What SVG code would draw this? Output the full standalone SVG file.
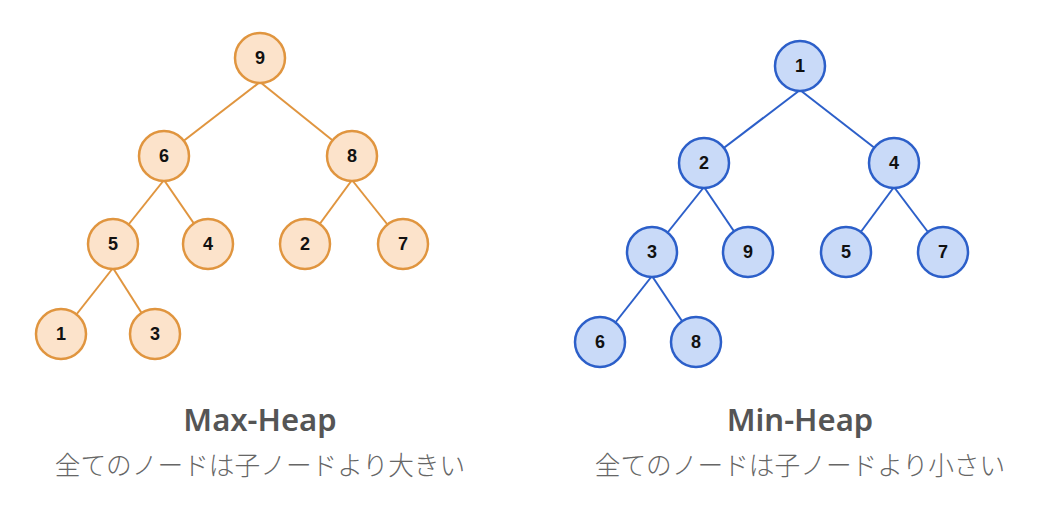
<svg xmlns="http://www.w3.org/2000/svg" width="1055" height="516" viewBox="0 0 1055 516">
<style>
.e1{stroke:#E0953F;stroke-width:2;fill:none}
.e2{stroke:#2C5FC9;stroke-width:2;fill:none}
.n1 circle{fill:#FCE3CB;stroke:#E0953F;stroke-width:2.5}
.n2 circle{fill:#C9DAF8;stroke:#2C5FC9;stroke-width:2.5}
.n1 text,.n2 text{font-family:"Liberation Sans",Arial,sans-serif;font-weight:bold;font-size:18px;fill:#111;text-anchor:middle;dominant-baseline:central}
.title{font-family:"Noto Sans","Open Sans",sans-serif;font-weight:600;font-size:31px;fill:#555;text-anchor:middle}
.sub{font-family:"Noto Sans CJK JP",sans-serif;font-weight:300;font-size:25.7px;fill:#666;text-anchor:middle}
</style>
<rect width="1055" height="516" fill="#fff"/>
<g id="connectors">
<line class="e1" x1="260" y1="82" x2="164" y2="156"/>
<line class="e1" x1="260" y1="82" x2="352" y2="156"/>
<line class="e1" x1="164" y1="180" x2="113" y2="244"/>
<line class="e1" x1="164" y1="180" x2="208" y2="244"/>
<line class="e1" x1="352" y1="180" x2="305" y2="244"/>
<line class="e1" x1="352" y1="180" x2="403" y2="244"/>
<line class="e1" x1="113" y1="268" x2="61" y2="334"/>
<line class="e1" x1="113" y1="268" x2="155" y2="334"/>
<line class="e2" x1="800" y1="90" x2="704" y2="163"/>
<line class="e2" x1="800" y1="90" x2="894" y2="163"/>
<line class="e2" x1="704" y1="187" x2="652" y2="252"/>
<line class="e2" x1="704" y1="187" x2="748" y2="252"/>
<line class="e2" x1="894" y1="187" x2="846" y2="252"/>
<line class="e2" x1="894" y1="187" x2="943" y2="252"/>
<line class="e2" x1="652" y1="276" x2="600" y2="342"/>
<line class="e2" x1="652" y1="276" x2="696" y2="342"/>
</g>
<g id="max9" class="n1"><circle cx="260" cy="58" r="25"/><text x="260" y="58">9</text></g>
<g id="max6" class="n1"><circle cx="164" cy="156" r="25"/><text x="164" y="156">6</text></g>
<g id="max8" class="n1"><circle cx="352" cy="156" r="25"/><text x="352" y="156">8</text></g>
<g id="max5" class="n1"><circle cx="113" cy="244" r="25"/><text x="113" y="244">5</text></g>
<g id="max4" class="n1"><circle cx="208" cy="244" r="25"/><text x="208" y="244">4</text></g>
<g id="max2" class="n1"><circle cx="305" cy="244" r="25"/><text x="305" y="244">2</text></g>
<g id="max7" class="n1"><circle cx="403" cy="244" r="25"/><text x="403" y="244">7</text></g>
<g id="max1" class="n1"><circle cx="61" cy="334" r="25"/><text x="61" y="334">1</text></g>
<g id="max3" class="n1"><circle cx="155" cy="334" r="25"/><text x="155" y="334">3</text></g>
<g id="min1" class="n2"><circle cx="800" cy="66" r="25"/><text x="800" y="66">1</text></g>
<g id="min2" class="n2"><circle cx="704" cy="163" r="25"/><text x="704" y="163">2</text></g>
<g id="min4" class="n2"><circle cx="894" cy="163" r="25"/><text x="894" y="163">4</text></g>
<g id="min3" class="n2"><circle cx="652" cy="252" r="25"/><text x="652" y="252">3</text></g>
<g id="min9" class="n2"><circle cx="748" cy="252" r="25"/><text x="748" y="252">9</text></g>
<g id="min5" class="n2"><circle cx="846" cy="252" r="25"/><text x="846" y="252">5</text></g>
<g id="min7" class="n2"><circle cx="943" cy="252" r="25"/><text x="943" y="252">7</text></g>
<g id="min6" class="n2"><circle cx="600" cy="342" r="25"/><text x="600" y="342">6</text></g>
<g id="min8" class="n2"><circle cx="696" cy="342" r="25"/><text x="696" y="342">8</text></g>
<g id="labels">
<text class="title" x="260" y="431">Max-Heap</text>
<text class="sub" x="260" y="475">全てのノードは子ノードより大きい</text>
<text class="title" x="800" y="431">Min-Heap</text>
<text class="sub" x="800" y="475">全てのノードは子ノードより小さい</text>
</g>
</svg>
